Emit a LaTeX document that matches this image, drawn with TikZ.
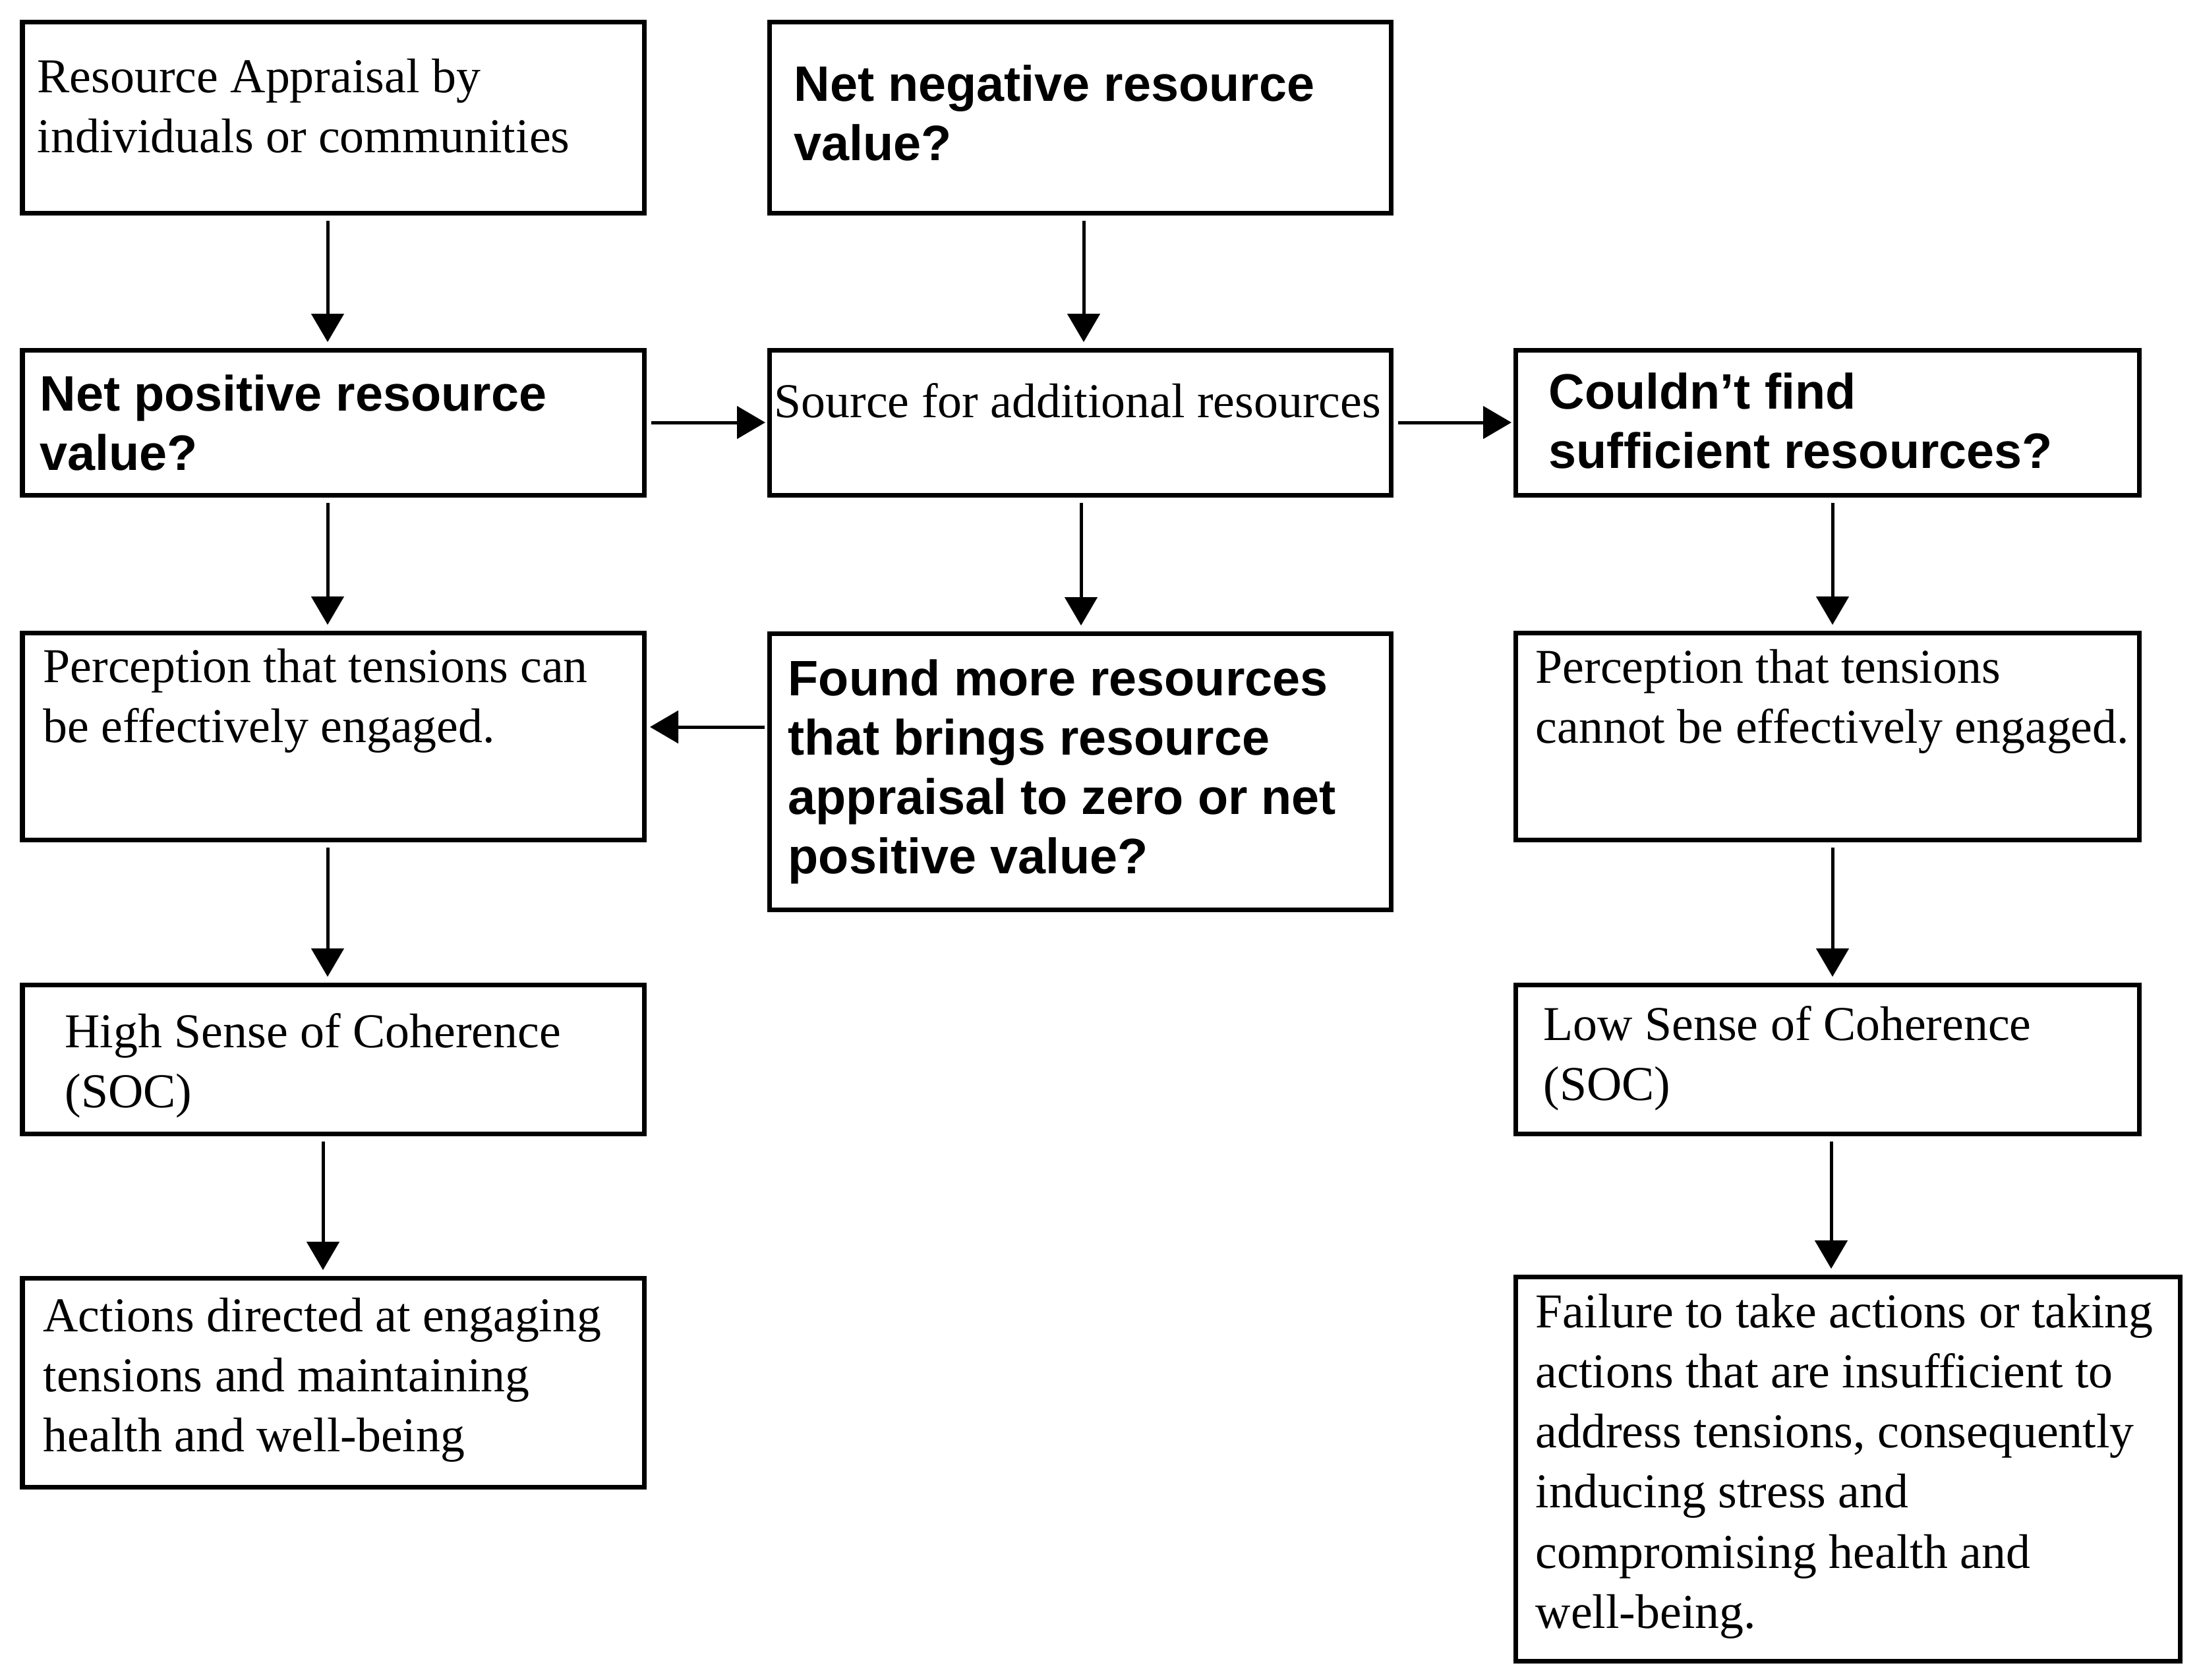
\documentclass[tikz,border=0pt]{standalone}
\usepackage{fontspec}
\setmainfont{Liberation Serif}
\setsansfont{Liberation Sans}
\usetikzlibrary{arrows.meta,calc}
\tikzset{
  box/.style={draw, line width=0.07cm, inner sep=0pt, outer sep=0pt, anchor=center},
  sertext/.style={anchor=base west, inner sep=0pt, align=left, font=\fontsize{21pt}{25.9pt}\selectfont},
  santext/.style={anchor=base west, inner sep=0pt, align=left, font=\fontsize{21.5pt}{25.6pt}\selectfont\sffamily\bfseries},
  arr/.style={line width=0.05cm, -{Triangle[width=0.49cm,length=0.43cm]}, shorten <=0.12cm, shorten >=0.12cm},
  harr/.style={arr, shorten <=0.11cm, shorten >=0.06cm},
}
\begin{document}
\begin{tikzpicture}
\fill[white] (0,0) rectangle (33.36,-25.48);
\useasboundingbox (0,0) rectangle (33.36,-25.48);

% boxes
\node[box, minimum width=9.43cm, minimum height=2.90cm] (b1) at (5.055,-1.78) {};
\node[box, minimum width=9.43cm, minimum height=2.90cm] (b2) at (16.385,-1.78) {};
\node[box, minimum width=9.43cm, minimum height=2.20cm] (b3) at (5.055,-6.41) {};
\node[box, minimum width=9.43cm, minimum height=2.20cm] (b4) at (16.385,-6.41) {};
\node[box, minimum width=9.46cm, minimum height=2.20cm] (b5) at (27.72,-6.41) {};
\node[box, minimum width=9.43cm, minimum height=3.14cm] (b6) at (5.055,-11.17) {};
\node[box, minimum width=9.43cm, minimum height=4.19cm] (b7) at (16.385,-11.705) {};
\node[box, minimum width=9.46cm, minimum height=3.14cm] (b8) at (27.72,-11.17) {};
\node[box, minimum width=9.43cm, minimum height=2.26cm] (b9) at (5.055,-16.07) {};
\node[box, minimum width=9.46cm, minimum height=2.26cm] (b10) at (27.72,-16.07) {};
\node[box, minimum width=9.43cm, minimum height=3.17cm] (b11) at (5.055,-20.975) {};
\node[box, minimum width=10.08cm, minimum height=5.83cm] (b12) at (28.03,-22.285) {};

% texts (anchor = baseline of the last line)
\node[sertext] (t1) at ([shift={(0.22,-1.984)}]b1.north west) {Resource Appraisal by\\individuals or communities};
\node[santext] (t2) at ([shift={(0.37,-2.10)}]b2.north west) {Net negative resource\\value?};
\node[santext] (t3) at ([shift={(0.26,-1.82)}]b3.north west) {Net positive resource\\value?};
\node[sertext] (t4) at ([shift={(0.07,-1.02)}]b4.north west) {Source for additional resources};
\node[santext] (t5) at ([shift={(0.50,-1.79)}]b5.north west) {Couldn’t find\\sufficient resources?};
\node[sertext] (t6) at ([shift={(0.31,-1.664)}]b6.north west) {Perception that tensions can\\be effectively engaged.};
\node[santext] (t7) at ([shift={(0.28,-3.64)}]b7.north west) {Found more resources\\that brings resource\\appraisal to zero or net\\positive value?};
\node[sertext] (t8) at ([shift={(0.30,-1.674)}]b8.north west) {Perception that tensions\\cannot be effectively engaged.};
\node[sertext] (t9) at ([shift={(0.64,-1.864)}]b9.north west) {High Sense of Coherence\\(SOC)};
\node[sertext] (t10) at ([shift={(0.42,-1.754)}]b10.north west) {Low Sense of Coherence\\(SOC)};
\node[sertext] (t11) at ([shift={(0.31,-2.637)}]b11.north west) {Actions directed at engaging\\tensions and maintaining\\health and well-being};
\node[sertext] (t12) at ([shift={(0.30,-5.33)}]b12.north west) {Failure to take actions or taking\\actions that are insufficient to\\address tensions, consequently\\inducing stress and\\compromising health and\\well-being.};

% vertical connectors
\draw[arr] ([xshift=-0.085cm]b1.south) -- ([xshift=-0.085cm]b3.north);
\draw[arr] ([xshift=-0.085cm]b3.south) -- ([xshift=-0.085cm]b6.north);
\draw[arr] ([xshift=-0.085cm]b6.south) -- ([xshift=-0.085cm]b9.north);
\draw[arr] ([xshift=-0.155cm]b9.south) -- ([xshift=-0.155cm]b11.north);
\draw[arr] ([xshift=0.055cm]b2.south) -- ([xshift=0.055cm]b4.north);
\draw[arr] ([xshift=0.015cm]b4.south) -- ([xshift=0.015cm]b7.north);
\draw[arr] ([xshift=0.08cm]b5.south) -- ([xshift=0.08cm]b8.north);
\draw[arr] ([xshift=0.08cm]b8.south) -- ([xshift=0.08cm]b10.north);
\draw[arr] ([xshift=0.06cm]b10.south) coordinate (c10) -- (c10 |- b12.north);

% horizontal connectors
\draw[harr] (b3.east) -- (b4.west);
\draw[harr] (b4.east) -- (b5.west);
\draw[harr, shorten <=0.07cm, shorten >=0.09cm] ([yshift=0.675cm]b7.west) -- ([yshift=0.14cm]b6.east);
\end{tikzpicture}
\end{document}
